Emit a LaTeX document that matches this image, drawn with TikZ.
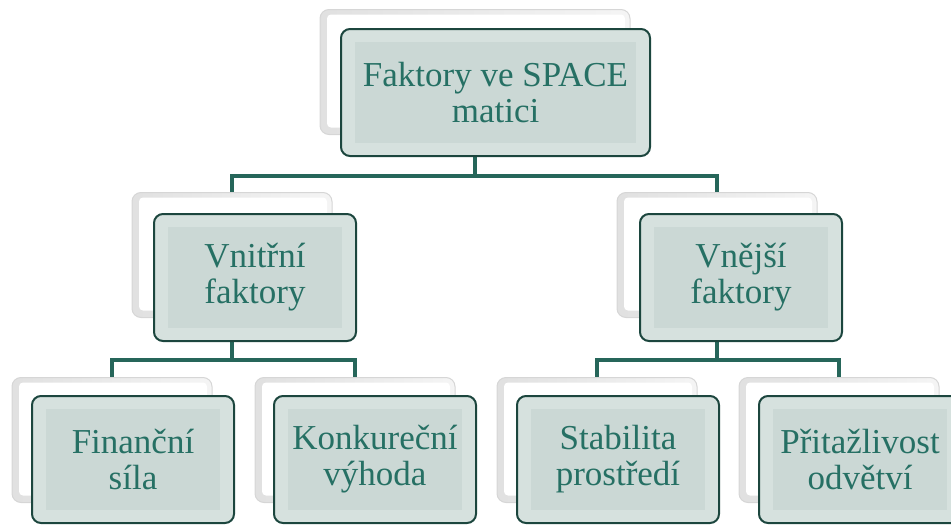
\documentclass[tikz,border=0pt]{standalone}
\usepackage{fontspec}
\setmainfont{Liberation Serif}
\definecolor{txtc}{RGB}{38,112,100}
\definecolor{linec}{RGB}{38,102,90}
\definecolor{edgec}{RGB}{28,70,62}
\definecolor{facec}{RGB}{203,216,213}
\definecolor{bevelc}{RGB}{214,225,222}
\tikzset{
 backbox/.style={rectangle, rounded corners=9pt, draw=gray!32, line width=1pt,
   left color=gray!24, right color=gray!8, minimum width=#1, minimum height=125pt, inner sep=0pt,
   path picture={\fill[white, rounded corners=4pt]
     ([shift={(7pt,-5pt)}]path picture bounding box.north west) rectangle
     ([shift={(-5pt,7pt)}]path picture bounding box.south east);}},
 backbox/.default=200pt,
 frontbox/.style={rectangle, rounded corners=9pt, draw=edgec, line width=2pt,
   fill=bevelc, minimum width=#1, minimum height=127pt,
   inner sep=0pt, text=txtc, align=center, font=\fontsize{35}{36}\selectfont,
   path picture={\fill[facec, sharp corners]
     ([shift={(14pt,-13pt)}]path picture bounding box.north west) rectangle
     ([shift={(-14pt,13pt)}]path picture bounding box.south east);}},
 frontbox/.default=202pt,
 conn/.style={draw=linec, line width=3.5pt}
}
\begin{document}
\begin{tikzpicture}[x=1pt, y=-1pt]
\useasboundingbox (0,0) rectangle (951,525);
% back boxes
\node[backbox=310pt] (t0b) at (475,72) {};
\node[backbox] (v1b) at (232,255) {};
\node[backbox] (v2b) at (717,255) {};
\node[backbox] (f1b) at (112,440) {};
\node[backbox] (k1b) at (355,440) {};
\node[backbox] (s1b) at (597,440) {};
\node[backbox] (p1b) at (839,440) {};
% connectors
\coordinate (j0) at (475,176);
\coordinate (j1) at (232,360);
\coordinate (j2) at (717,360);
\draw[conn] (t0b.south) -- (j0);
\draw[conn] (j0) -| (v1b.north);
\draw[conn] (j0) -| (v2b.north);
\draw[conn] (v1b.south) -- (j1);
\draw[conn] (j1) -| (f1b.north);
\draw[conn] (j1) -| (k1b.north);
\draw[conn] (v2b.south) -- (j2);
\draw[conn] (j2) -| (s1b.north);
\draw[conn] (j2) -| (p1b.north);
% front boxes
\node[frontbox=309pt] (t0) at (495.5,92.5) {Faktory ve SPACE\\matici};
\node[frontbox] (v1) at (255,277.5) {Vnitřní\\faktory};
\node[frontbox] (v2) at (741,277.5) {Vnější\\faktory};
\node[frontbox] (f1) at (133,459.5) {Finanční\\síla};
\node[frontbox] (k1) at (375,459.5) {Konkureční\\výhoda};
\node[frontbox] (s1) at (618,459.5) {Stabilita\\prostředí};
\node[frontbox] (p1) at (860,459.5) {Přitažlivost\\odvětví};
\end{tikzpicture}
\end{document}
